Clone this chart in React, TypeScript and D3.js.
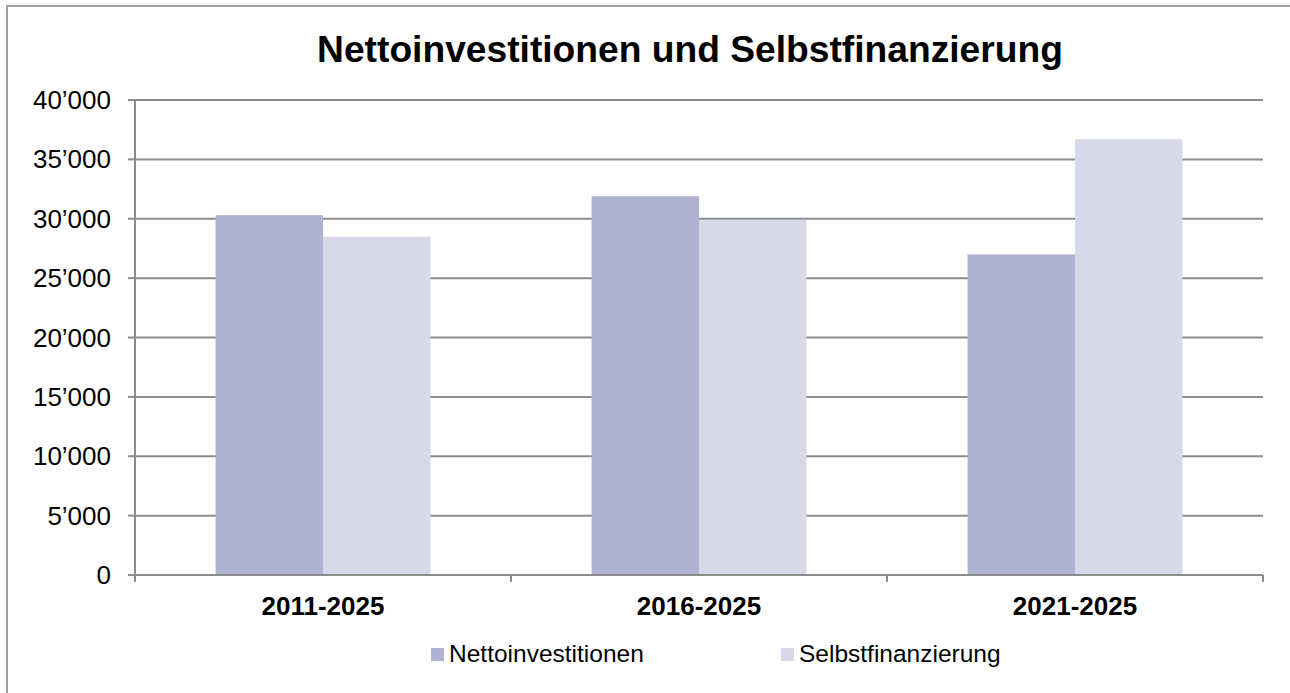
import React from 'react'
import { scaleBand, scaleLinear, formatLocale } from 'd3'

const categories = ['2011-2025', '2016-2025', '2021-2025']
const seriesNames = ['Nettoinvestitionen', 'Selbstfinanzierung']
const nettoinvestitionen = [30300, 31900, 27000]
const selbstfinanzierung = [28500, 29900, 36700]
const yTicks = [0, 5000, 10000, 15000, 20000, 25000, 30000, 35000, 40000]
const colors = ['#b0b2d1', '#d8d9e8']

const WIDTH = 1290
const HEIGHT = 693
const FONT = '"Liberation Sans", Arial, sans-serif'

const fmt = formatLocale({ decimal: '.', thousands: '\u2019', grouping: [3], currency: ['', ''] }).format(',')

export default function App(): JSX.Element {
  const left = 135
  const right = 1263
  const top = 100
  const bottom = 575

  const x0 = scaleBand<string>().domain(categories).range([left, right])
  const x1 = scaleBand<string>()
    .domain(seriesNames)
    .range([0, x0.bandwidth()])
    .paddingInner(0)
    .paddingOuter(0.75)
  const y = scaleLinear().domain([0, 40000]).range([bottom, top])

  const values = [nettoinvestitionen, selbstfinanzierung]
  const gridColor = '#8c8c8c'

  // category boundaries for the x tick marks
  const boundaries = [...categories.map((c) => x0(c) as number), right]

  const legendX = [431, 781]

  return (
    <svg
      width={WIDTH}
      height={HEIGHT}
      style={{ position: 'absolute', left: 0, top: 0, background: '#fff' }}
      xmlns="http://www.w3.org/2000/svg"
    >
      <rect x={0} y={0} width={WIDTH} height={HEIGHT} fill="#fff" />
      {/* chart frame */}
      <path d={`M7,${HEIGHT} V6 H${WIDTH}`} fill="none" stroke="#a0a0a0" strokeWidth={2} />

      <text
        x={690}
        y={62}
        textAnchor="middle"
        fontFamily={FONT}
        fontWeight="bold"
        fontSize={37.2}
        fill="#000"
      >
        Nettoinvestitionen und Selbstfinanzierung
      </text>

      {/* gridlines + y ticks */}
      <g className="y-axis">
        {yTicks.map((t) => (
          <g key={t}>
            {t > 0 && (
              <line x1={left} x2={right} y1={y(t)} y2={y(t)} stroke={gridColor} strokeWidth={2} />
            )}
            <line x1={left - 7} x2={left} y1={y(t)} y2={y(t)} stroke={gridColor} strokeWidth={2} />
            <text
              x={111}
              y={y(t)}
              dy="0.35em"
              textAnchor="end"
              fontFamily={FONT}
              fontSize={26}
              fill="#000"
            >
              {fmt(t)}
            </text>
          </g>
        ))}
        <line x1={left} x2={left} y1={top} y2={bottom} stroke={gridColor} strokeWidth={2} />
      </g>

      {/* bars */}
      <g className="bars">
        {categories.map((c, i) => (
          <g key={c} transform={`translate(${x0(c)},0)`}>
            {seriesNames.map((s, j) => (
              <rect
                key={s}
                x={x1(s)}
                y={y(values[j][i])}
                width={x1.bandwidth()}
                height={bottom - y(values[j][i])}
                fill={colors[j]}
              />
            ))}
          </g>
        ))}
      </g>

      {/* x axis */}
      <g className="x-axis">
        <line x1={left} x2={right} y1={bottom} y2={bottom} stroke={gridColor} strokeWidth={2} />
        {boundaries.map((b, i) => (
          <line key={i} x1={b} x2={b} y1={bottom} y2={bottom + 7} stroke={gridColor} strokeWidth={2} />
        ))}
        {categories.map((c) => (
          <text
            key={c}
            x={(x0(c) as number) + x0.bandwidth() / 2}
            y={615}
            textAnchor="middle"
            fontFamily={FONT}
            fontWeight="bold"
            fontSize={26}
            fill="#000"
          >
            {c}
          </text>
        ))}
      </g>

      {/* legend */}
      <g className="legend">
        {seriesNames.map((s, j) => (
          <g key={s}>
            <rect x={legendX[j]} y={648} width={13} height={13} fill={colors[j]} />
            <text x={legendX[j] + 18} y={662} fontFamily={FONT} fontSize={24.5} fill="#000">
              {s}
            </text>
          </g>
        ))}
      </g>
    </svg>
  )
}
